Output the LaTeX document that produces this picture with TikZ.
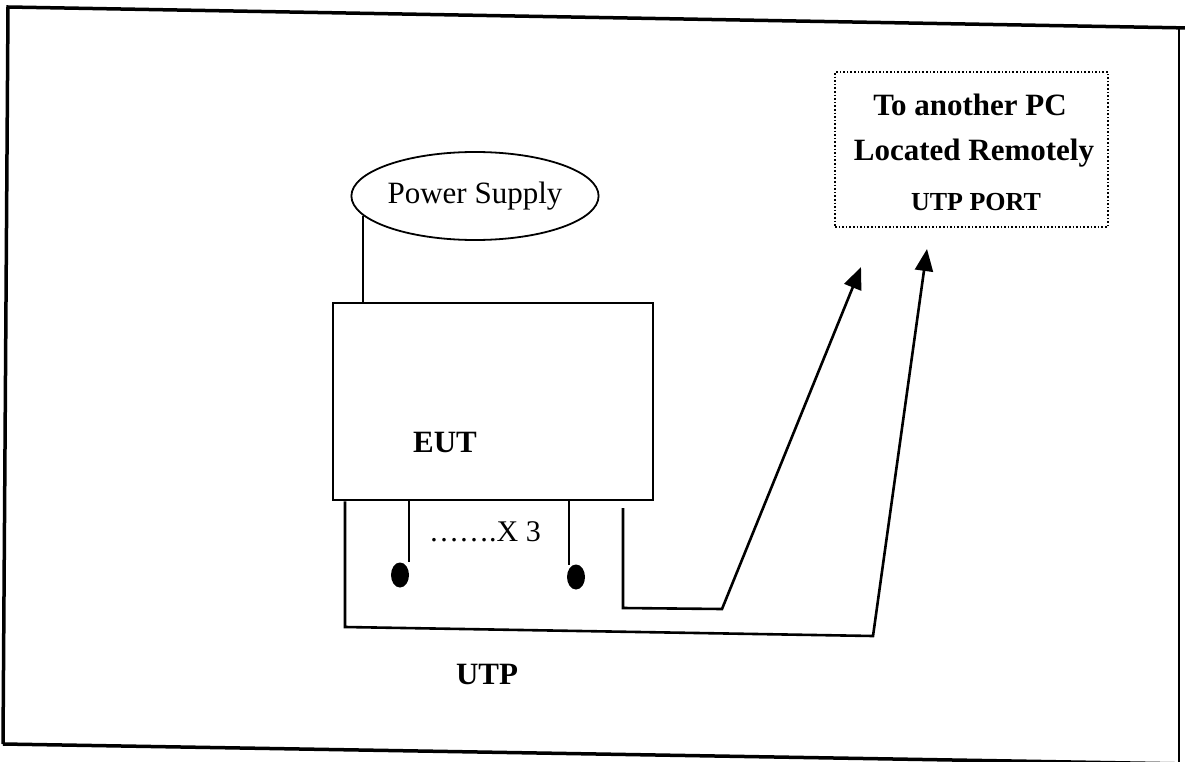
\documentclass[tikz,border=0pt]{standalone}
\usepackage{fontspec}
\setmainfont{Liberation Serif}
\usetikzlibrary{shapes.geometric,arrows.meta}

\begin{document}
\begin{tikzpicture}[
x=1pt, y=-1pt,
every node/.style={
align=center,
inner sep=0pt,
font=\fontsize{31}{48}\selectfont
},
wire/.style={
line width=2.6pt
},
tip/.style={
-{Triangle[length=22pt,width=18pt]}
}
]

\useasboundingbox (0,0) rectangle (1185,762);

% frame
\draw[line width=3.5pt]
(3,744) -- (8,7) -- (1190,28);
\draw[line width=3.5pt]
(3,744) -- (1190,764);
\draw[line width=2.8pt]
(1179,26) -- (1179,770);

\node (P)
at (475,196)
[draw, ellipse, line width=1.8pt,
minimum width=246pt, minimum height=88pt]
{Power Supply};

\node (E)
at (493,401.5)
[draw, line width=2.6pt,
minimum width=320pt, minimum height=197pt]
{};

\node (T)
at (445,442)
{\bfseries EUT};

\node (R)
at (971.5,149.5)
[draw, dotted, line width=1.6pt,
minimum width=273pt, minimum height=155pt]
{};

\node (R1)
at (970,105)
{\bfseries To another PC};

\node (R2)
at (974,153)
{\bfseries Located Remotely};

\node (R3)
at (976,202)
{\fontsize{26}{30}\selectfont\bfseries UTP PORT};

\node (J1)
at (400,575)
[fill, ellipse, minimum width=18pt, minimum height=25pt]
{};

\node (J2)
at (576,577)
[fill, ellipse, minimum width=18pt, minimum height=25pt]
{};

\node (X)
at (485,532)
{\fontsize{30}{36}\selectfont ……\kern0pt.X 3};

\node (U)
at (487,674)
{\bfseries UTP};

\coordinate (A1) at (861,267);
\coordinate (A2) at (927,249);

\draw[wire] (P.190) -- (P.190 |- E.north);

\draw[wire] (E.south -| 409,0) -- (409,562);
\draw[wire] (E.south -| 569,0) -- (569,565);

\draw[wire, tip] (623,508) -- (623,608) -- (722,609) -- (A1);
\draw[wire, tip] (E.south -| 345,0) -- (345,627) -- (873,636) -- (A2);

\end{tikzpicture}
\end{document}
